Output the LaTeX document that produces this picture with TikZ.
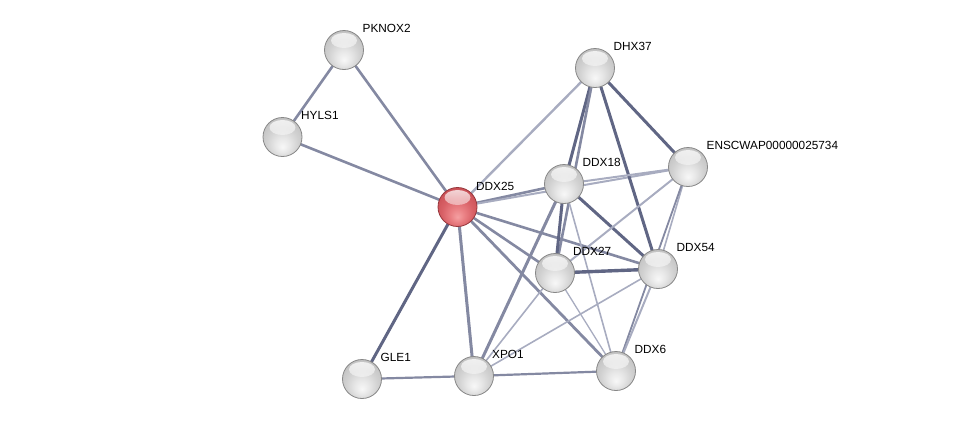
\documentclass[tikz,border=0pt]{standalone}
\usepackage{fontspec}
\setmainfont{Liberation Sans}
\usetikzlibrary{fadings}
\pgfdeclarelayer{bg}
\pgfsetlayers{bg,main}
\definecolor{edark}{RGB}{96,102,132}
\definecolor{emed}{RGB}{132,137,162}
\definecolor{elight}{RGB}{168,172,192}
\definecolor{rimgray}{RGB}{135,135,135}
\definecolor{rimred}{RGB}{150,55,60}
\pgfdeclareradialshading{grayball}{\pgfpoint{0bp}{-13bp}}{%
 color(0bp)=(white!97!black); color(9bp)=(white!91!black); color(20bp)=(white!82!black);
 color(30bp)=(white!76!black); color(38bp)=(white!71!black); color(50bp)=(white!66!black)}
\pgfdeclareradialshading{redball}{\pgfpoint{0bp}{-13bp}}{%
 color(0bp)=(rgb,255:red,245;green,160;blue,162); color(9bp)=(rgb,255:red,234;green,128;blue,132);
 color(20bp)=(rgb,255:red,216;green,96;blue,102); color(30bp)=(rgb,255:red,202;green,80;blue,86);
 color(38bp)=(rgb,255:red,192;green,68;blue,74); color(50bp)=(rgb,255:red,182;green,60;blue,66)}
\tikzset{
 ballnode/.style={circle, inner sep=0pt, minimum size=39pt, shading=grayball, draw=rimgray, line width=0.8pt,
   path picture={\fill[white, path fading=south, opacity=0.8]
     ([yshift=9.5pt]path picture bounding box.center) ellipse (13pt and 7.5pt);}},
 rednode/.style={ballnode, shading=redball, draw=rimred},
 lbl/.style={anchor=west, inner sep=0pt, font=\fontsize{11.8}{14}\selectfont, text=black},
 ed/.style={line width=#1},
}
\begin{document}
\begin{tikzpicture}[x=1pt,y=-1pt]
\useasboundingbox (0,0) rectangle (975,424);
% nodes
\node[ballnode] (PKNOX2) at (344,50) {};
\node[ballnode] (HYLS1) at (282.5,137) {};
\node[rednode] (DDX25) at (457.5,207) {};
\node[ballnode] (DHX37) at (595,68) {};
\node[ballnode] (ENSC) at (688,167) {};
\node[ballnode] (DDX18) at (564,184) {};
\node[ballnode] (DDX27) at (555,273) {};
\node[ballnode] (DDX54) at (658,269) {};
\node[ballnode] (GLE1) at (362,379) {};
\node[ballnode] (XPO1) at (474,376) {};
\node[ballnode] (DDX6) at (616,371) {};
% labels
\node[lbl] (lPKNOX2) at ([xshift=18.5pt,yshift=22pt]PKNOX2.center) {PKNOX2};
\node[lbl] (lHYLS1) at ([xshift=18.5pt,yshift=22pt]HYLS1.center) {HYLS1};
\node[lbl] (lDDX25) at ([xshift=18.5pt,yshift=21pt]DDX25.center) {DDX25};
\node[lbl] (lDHX37) at ([xshift=18.5pt,yshift=22pt]DHX37.center) {DHX37};
\node[lbl] (lENSC) at ([xshift=18.5pt,yshift=22pt]ENSC.center) {ENSCWAP00000025734};
\node[lbl] (lDDX18) at ([xshift=18.5pt,yshift=22pt]DDX18.center) {DDX18};
\node[lbl] (lDDX27) at ([xshift=18pt,yshift=22pt]DDX27.center) {DDX27};
\node[lbl] (lDDX54) at ([xshift=18.5pt,yshift=22pt]DDX54.center) {DDX54};
\node[lbl] (lGLE1) at ([xshift=18.5pt,yshift=22pt]GLE1.center) {GLE1};
\node[lbl] (lXPO1) at ([xshift=18pt,yshift=22pt]XPO1.center) {XPO1};
\node[lbl] (lDDX6) at ([xshift=18.5pt,yshift=22pt]DDX6.center) {DDX6};
% edges
\begin{pgfonlayer}{bg}
\draw[emed, ed=2.6pt] (PKNOX2.center) -- (HYLS1.center);
\draw[emed, ed=2.6pt] (PKNOX2.center) -- (DDX25.center);
\draw[emed, ed=2.6pt] (HYLS1.center) -- (DDX25.center);
\draw[edark, ed=3pt] (DDX25.center) -- (GLE1.center);
\draw[emed, ed=3pt] (DDX25.center) -- (XPO1.center);
\draw[elight, ed=2.4pt] (DDX25.center) -- (DHX37.center);
\draw[emed, ed=2.6pt] (DDX25.center) -- (DDX18.center);
\draw[elight, ed=2pt] (DDX25.center) -- (ENSC.center);
\draw[emed, ed=2.6pt] (DDX25.center) -- (DDX54.center);
\draw[emed, ed=2.6pt] (DDX25.center) -- (DDX27.center);
\draw[emed, ed=2.8pt] (DDX25.center) -- (DDX6.center);
\draw[edark, ed=3pt] (DHX37.center) -- (DDX18.center);
\draw[emed, ed=2.6pt] (DHX37.center) -- (DDX27.center);
\draw[edark, ed=3pt] (DHX37.center) -- (DDX54.center);
\draw[edark, ed=3pt] (DHX37.center) -- (ENSC.center);
\draw[elight, ed=2pt] (DDX18.center) -- (ENSC.center);
\draw[edark, ed=3pt] (DDX18.center) -- (DDX54.center);
\draw[edark, ed=3pt] (DDX18.center) -- (DDX27.center);
\draw[emed, ed=3pt] (DDX18.center) -- (XPO1.center);
\draw[elight, ed=1.6pt] (DDX18.center) -- (DDX6.center);
\draw[elight, ed=2pt] (ENSC.center) -- (DDX27.center);
\draw[elight, ed=1.6pt] (ENSC.center) -- (DDX54.center);
\draw[emed, ed=1.8pt] (ENSC.center) -- (DDX6.center);
\draw[edark, ed=3.4pt] (DDX27.center) -- (DDX54.center);
\draw[elight, ed=1.6pt] (DDX27.center) -- (XPO1.center);
\draw[elight, ed=1.3pt] (DDX27.center) -- (DDX6.center);
\draw[elight, ed=1.6pt] (DDX54.center) -- (XPO1.center);
\draw[elight, ed=2pt] (DDX54.center) -- (DDX6.center);
\draw[emed, ed=2.2pt] (XPO1.center) -- (DDX6.center);
\draw[emed, ed=2.2pt] (GLE1.center) -- (XPO1.center);
\end{pgfonlayer}
\end{tikzpicture}
\end{document}
